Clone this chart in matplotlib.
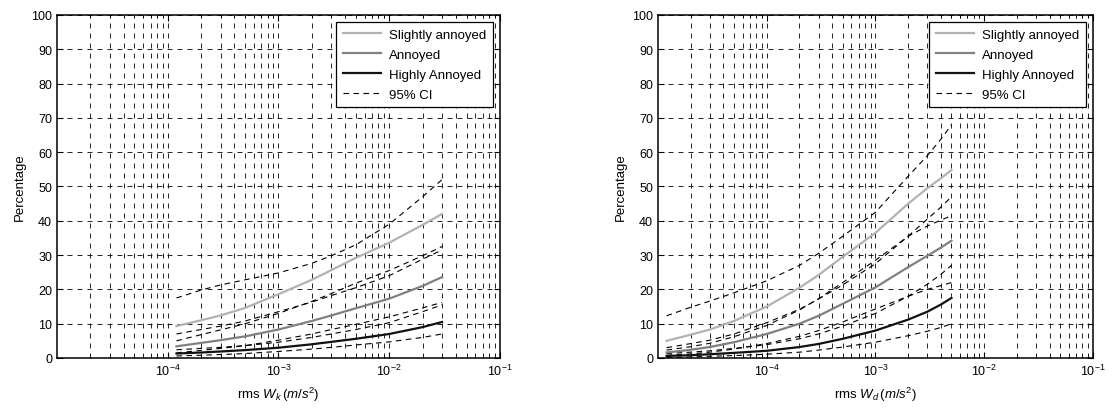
import matplotlib
matplotlib.use("Agg")
import matplotlib.pyplot as plt
from matplotlib.ticker import LogLocator, NullFormatter

plt.rcParams["font.family"] = ["Liberation Sans", "DejaVu Sans"]
plt.rcParams["mathtext.fontset"] = "custom"
plt.rcParams["mathtext.rm"] = "Liberation Sans"
plt.rcParams["mathtext.it"] = "Liberation Sans:italic"
plt.rcParams["font.size"] = 9

# left panel: rms Wk
xk = [1.2e-4, 2e-4, 3e-4, 5e-4, 1e-3, 2e-3, 3e-3, 5e-3, 1e-2, 2e-2, 3e-2]
k_slight = [9.3, 11.0, 12.4, 14.6, 18.6, 22.8, 25.6, 29.2, 33.6, 38.8, 42.0]
k_slight_up = [17.5, 19.8, 21.3, 22.8, 24.8, 27.6, 29.8, 33.0, 39.0, 47.0, 52.0]
k_slight_lo = [5.0, 6.8, 8.2, 10.0, 13.0, 16.5, 18.8, 21.8, 25.5, 29.8, 32.5]
k_annoy = [3.4, 4.4, 5.2, 6.3, 8.3, 10.8, 12.4, 14.5, 17.3, 21.0, 23.6]
k_annoy_up = [7.0, 8.3, 9.3, 10.8, 13.5, 16.3, 18.2, 20.5, 24.0, 28.8, 31.5]
k_annoy_lo = [1.5, 2.2, 2.8, 3.6, 5.2, 7.0, 8.3, 9.8, 12.0, 14.6, 16.2]
k_high = [1.3, 1.6, 1.9, 2.3, 3.0, 4.0, 4.7, 5.6, 7.0, 9.0, 10.5]
k_high_up = [2.4, 2.8, 3.1, 3.6, 4.6, 6.0, 7.0, 8.3, 10.3, 13.5, 15.5]
k_high_lo = [0.6, 0.8, 1.0, 1.3, 1.9, 2.6, 3.1, 3.8, 4.7, 6.0, 7.0]

# right panel: rms Wd
xd = [1.2e-5, 2e-5, 3e-5, 5e-5, 1e-4, 2e-4, 3e-4, 5e-4, 1e-3, 2e-3, 3e-3, 4e-3, 5e-3]
d_slight = [5.0, 6.8, 8.3, 10.8, 15.0, 20.5, 24.2, 29.5, 36.5, 45.0, 49.5, 52.4, 54.8]
d_slight_up = [12.3, 14.8, 16.6, 19.0, 22.5, 27.0, 30.5, 35.5, 42.5, 53.0, 59.0, 63.8, 68.0]
d_slight_lo = [2.3, 3.3, 4.3, 6.2, 9.5, 14.0, 17.3, 22.0, 28.5, 35.5, 38.5, 40.2, 41.5]
d_annoy = [1.6, 2.4, 3.2, 4.6, 7.0, 10.0, 12.3, 15.8, 20.6, 26.5, 29.8, 32.2, 34.2]
d_annoy_up = [3.0, 4.2, 5.2, 7.0, 10.3, 14.2, 17.2, 21.3, 27.5, 35.5, 40.5, 44.0, 47.0]
d_annoy_lo = [0.8, 1.2, 1.7, 2.6, 4.2, 6.3, 8.0, 10.5, 14.3, 18.0, 20.0, 21.1, 22.0]
d_high = [0.6, 0.8, 1.1, 1.5, 2.1, 3.2, 4.1, 5.6, 8.0, 11.2, 13.5, 15.6, 17.5]
d_high_up = [1.3, 1.7, 2.1, 2.8, 3.9, 5.6, 7.0, 9.3, 13.0, 18.0, 21.5, 24.4, 27.0]
d_high_lo = [0.2, 0.3, 0.5, 0.7, 1.1, 1.7, 2.3, 3.2, 4.6, 6.5, 7.8, 8.9, 10.0]

labels = ["Slightly annoyed", "Annoyed", "Highly Annoyed", "95% CI"]
colors = ["#b2b2b2", "#808080", "#111111"]
yticks = list(range(0, 101, 10))
xticks = [1e-4, 1e-3, 1e-2, 1e-1]

fig = plt.figure(figsize=(11.13, 4.10), dpi=100)
ax1 = fig.add_axes([0.0512, 0.1244, 0.398, 0.8366])
ax2 = fig.add_axes([0.5912, 0.1244, 0.3908, 0.8366])

panels = [
    (ax1, xk, [k_slight, k_annoy, k_high],
     [k_slight_up, k_slight_lo, k_annoy_up, k_annoy_lo, k_high_up, k_high_lo],
     r"rms $W_k\,(m/s^2)$"),
    (ax2, xd, [d_slight, d_annoy, d_high],
     [d_slight_up, d_slight_lo, d_annoy_up, d_annoy_lo, d_high_up, d_high_lo],
     r"rms $W_d\,(m/s^2)$"),
]

for ax, x, means, cis, xlab in panels:
    handles = []
    for y, c, lab in zip(means, colors, labels):
        h, = ax.plot(x, y, color=c, lw=1.6, label=lab, zorder=3)
        handles.append(h)
    for i, y in enumerate(cis):
        h, = ax.plot(x, y, color="black", lw=0.8, ls=(0, (5, 4)),
                     label=labels[3] if i == 0 else None, zorder=2)
        if i == 0:
            handles.append(h)
    ax.set_xscale("log")
    ax.set_xlim(1e-5, 1e-1)
    ax.set_ylim(0, 100)
    ax.set_xticks(xticks)
    ax.xaxis.set_minor_locator(LogLocator(base=10, subs=range(2, 10), numticks=20))
    ax.xaxis.set_minor_formatter(NullFormatter())
    ax.set_yticks(yticks)
    ax.grid(True, which="major", color="black", lw=0.6, ls=(0, (6, 6)))
    ax.grid(True, which="minor", axis="x", color="black", lw=0.6, ls=(0, (6, 6)))
    ax.tick_params(which="both", direction="in", top=True, right=True)
    ax.tick_params(which="major", length=4)
    ax.tick_params(which="minor", length=2.5)
    for s in ax.spines.values():
        s.set_linewidth(1.1)
    ax.set_xlabel(xlab, fontsize=9.5, labelpad=5)
    ax.set_ylabel("Percentage", fontsize=9.5)
    leg = ax.legend(handles=handles, loc="upper right", fancybox=False,
                    edgecolor="black", framealpha=1, handlelength=2.9,
                    handletextpad=0.6, fontsize=9.5, borderpad=0.5,
                    borderaxespad=0.55, labelspacing=0.58)
    leg.get_frame().set_linewidth(0.9)

fig.savefig("out.png", dpi=100)
